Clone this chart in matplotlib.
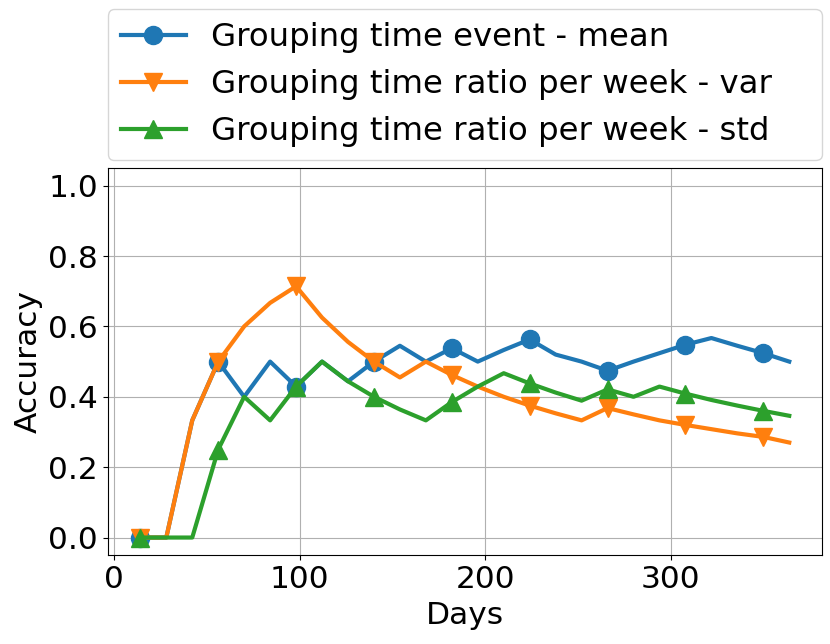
import matplotlib
matplotlib.use("Agg")
import matplotlib.pyplot as plt

days = [14, 28, 42, 56, 70, 84, 98, 112, 126, 140, 154, 168, 182, 196, 210, 224,
        238, 252, 266, 280, 294, 308, 322, 336, 350, 364]
mean_vals = [0.0, 0.0, 0.333, 0.5, 0.4, 0.5, 0.429, 0.5, 0.444, 0.5, 0.545, 0.5, 0.538,
             0.5, 0.533, 0.563, 0.52, 0.5, 0.474, 0.5, 0.524, 0.548, 0.567, 0.545, 0.524, 0.5]
var_vals = [0.0, 0.0, 0.333, 0.5, 0.6, 0.667, 0.714, 0.625, 0.556, 0.5, 0.455, 0.5, 0.462,
            0.429, 0.4, 0.375, 0.353, 0.333, 0.368, 0.35, 0.333, 0.32, 0.308, 0.296, 0.286, 0.27]
std_vals = [0.0, 0.0, 0.0, 0.25, 0.4, 0.333, 0.429, 0.5, 0.444, 0.4, 0.364, 0.333, 0.385,
            0.429, 0.467, 0.438, 0.412, 0.389, 0.421, 0.4, 0.429, 0.409, 0.391, 0.375, 0.36, 0.346]
labels = ["Grouping time event - mean",
          "Grouping time ratio per week - var",
          "Grouping time ratio per week - std"]
xticks = [0, 100, 200, 300]

plt.rcParams['font.size'] = 22.5
fig = plt.figure(figsize=(8.3, 6.44), dpi=100)
ax = fig.add_axes([0.130, 0.138, 0.860, 0.601])
ax.plot(days, mean_vals, marker='o', markevery=3, lw=3, ms=13, label=labels[0])
ax.plot(days, var_vals, marker='v', markevery=3, lw=3, ms=13, label=labels[1])
ax.plot(days, std_vals, marker='^', markevery=3, lw=3, ms=13, label=labels[2])
ax.set_ylim(-0.05, 1.05)
ax.set_xticks(xticks)
ax.set_xlabel("Days", labelpad=5)
ax.set_ylabel("Accuracy")
ax.grid(True)
ax.legend(bbox_to_anchor=(0, 1.02, 1, 0.2), loc='lower left', mode='expand',
          borderaxespad=0, fontsize=23.3)
fig.savefig("out.png", dpi=100)
